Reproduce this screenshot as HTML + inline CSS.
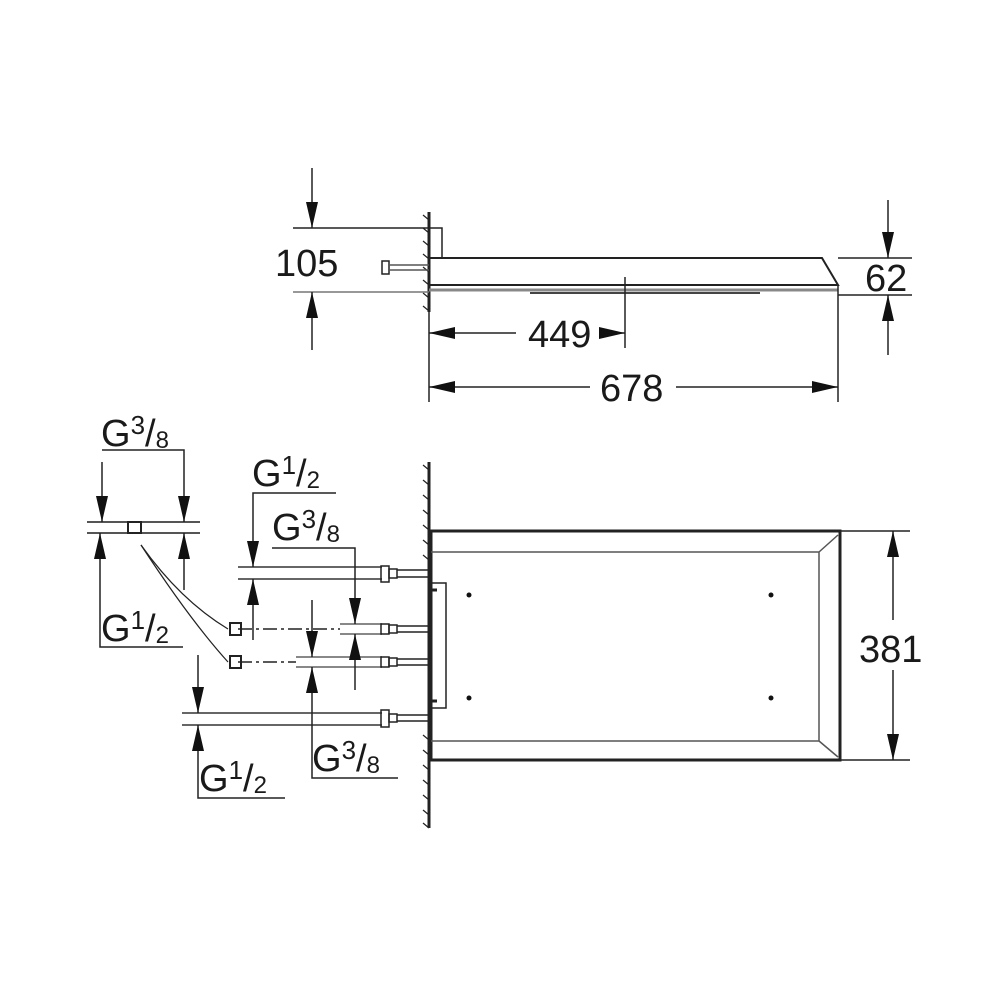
<!DOCTYPE html>
<html><head><meta charset="utf-8"><style>
html,body{margin:0;padding:0;background:#fff;}
svg{display:block}
text{font-family:"Liberation Sans",sans-serif;fill:#1a1a1a}
</style></head><body>
<svg width="1000" height="1000" viewBox="0 0 1000 1000" xmlns="http://www.w3.org/2000/svg">
<defs>
<marker id="b" viewBox="0 0 10 10" refX="10" refY="5" markerWidth="26" markerHeight="12" orient="auto-start-reverse" markerUnits="userSpaceOnUse" preserveAspectRatio="none">
<path d="M0,0 L10,5 L0,10 z" fill="#111"/></marker>
</defs>
<g stroke="#222" fill="none" stroke-width="1.5">
<!-- TOP VIEW -->
<line x1="429" y1="212" x2="429" y2="312" stroke-width="3"/>
<path d="M429,220 l-6,-5 M429,233 l-6,-5 M429,246 l-6,-5 M429,259 l-6,-5 M429,272 l-6,-5 M429,285 l-6,-5 M429,298 l-6,-5 M429,311 l-6,-5" stroke-width="1.2"/>
<path d="M429,228 H442 V258" />
<path d="M429,258 H822 L838,285 H429" stroke-width="2"/>
<line x1="429" y1="290" x2="838" y2="290" stroke="#888" stroke-width="3"/>
<line x1="530" y1="293" x2="760" y2="293" stroke="#444" stroke-width="2"/>
<rect x="382" y="261" width="7" height="13" stroke-width="1.5"/>
<line x1="389" y1="265" x2="429" y2="265" stroke="#555"/>
<line x1="389" y1="270" x2="429" y2="270" stroke="#555"/>
<!-- 105 -->
<line x1="293" y1="228" x2="429" y2="228"/>
<line x1="293" y1="292" x2="429" y2="292" stroke="#777"/>
<line x1="312" y1="168" x2="312" y2="228" marker-end="url(#b)"/>
<line x1="312" y1="350" x2="312" y2="292" marker-end="url(#b)"/>
<!-- 62 -->
<line x1="838" y1="258" x2="912" y2="258"/>
<line x1="838" y1="295" x2="912" y2="295"/>
<line x1="888" y1="200" x2="888" y2="258" marker-end="url(#b)"/>
<line x1="888" y1="355" x2="888" y2="295" marker-end="url(#b)"/>
<!-- 449 / 678 -->
<line x1="625" y1="277" x2="625" y2="348"/>
<line x1="838" y1="285" x2="838" y2="402"/>
<line x1="429" y1="312" x2="429" y2="402"/>
<line x1="429" y1="333" x2="516" y2="333" marker-start="url(#b)"/>
<line x1="606" y1="333" x2="625" y2="333" marker-end="url(#b)"/>
<line x1="429" y1="387" x2="590" y2="387" marker-start="url(#b)"/>
<line x1="676" y1="387" x2="838" y2="387" marker-end="url(#b)"/>

<!-- BOTTOM VIEW -->
<line x1="429" y1="462" x2="429" y2="828" stroke-width="3"/>
<path d="M429,470 l-6,-5 M429,485 l-6,-5 M429,500 l-6,-5 M429,515 l-6,-5 M429,530 l-6,-5 M429,545 l-6,-5 M429,560 l-6,-5 M429,740 l-6,-5 M429,755 l-6,-5 M429,770 l-6,-5 M429,785 l-6,-5 M429,800 l-6,-5 M429,815 l-6,-5 M429,828 l-6,-5" stroke-width="1.2"/>
<rect x="431" y="531" width="409" height="229" stroke-width="3"/>
<path d="M431,552 H819 V741 H431 M819,552 L838,535 M819,741 L838,757" stroke="#555"/>
<path d="M431,583 H446 V708 H431"/>
<line x1="431" y1="590" x2="437" y2="590" stroke-width="3"/>
<line x1="431" y1="701" x2="437" y2="701" stroke-width="3"/>
<!-- 381 -->
<line x1="840" y1="531" x2="910" y2="531"/>
<line x1="840" y1="760" x2="910" y2="760"/>
<line x1="893" y1="531" x2="893" y2="620" marker-start="url(#b)"/>
<line x1="893" y1="670" x2="893" y2="760" marker-end="url(#b)"/>

<!-- pipes -->
<line x1="238" y1="567" x2="382" y2="567" stroke="#666" stroke-width="2"/>
<line x1="238" y1="579" x2="382" y2="579" stroke="#666" stroke-width="2"/>
<rect x="381" y="566" width="8" height="16"/><rect x="389" y="569" width="8" height="9"/>
<line x1="397" y1="570" x2="429" y2="570"/><line x1="397" y1="577" x2="429" y2="577"/>

<line x1="182" y1="713" x2="382" y2="713" stroke="#666" stroke-width="2"/>
<line x1="182" y1="725" x2="382" y2="725" stroke="#666" stroke-width="2"/>
<rect x="381" y="710" width="8" height="17"/><rect x="389" y="714" width="8" height="8"/>
<line x1="397" y1="715" x2="429" y2="715"/><line x1="397" y1="721" x2="429" y2="721"/>

<line x1="340" y1="624" x2="382" y2="624" stroke="#888" stroke-width="2"/>
<line x1="340" y1="634" x2="382" y2="634" stroke="#888" stroke-width="2"/>
<rect x="381" y="624" width="8" height="10"/><rect x="389" y="625" width="8" height="8"/>
<line x1="397" y1="626" x2="429" y2="626"/><line x1="397" y1="632" x2="429" y2="632"/>
<line x1="296" y1="657" x2="382" y2="657" stroke="#888" stroke-width="2"/>
<line x1="296" y1="667" x2="382" y2="667" stroke="#888" stroke-width="2"/>
<rect x="381" y="657" width="8" height="10"/><rect x="389" y="658" width="8" height="8"/>
<line x1="397" y1="659" x2="429" y2="659"/><line x1="397" y1="665" x2="429" y2="665"/>

<line x1="238" y1="629" x2="340" y2="629" stroke-dasharray="14,4,3,4"/>
<line x1="238" y1="662" x2="296" y2="662" stroke-dasharray="14,4,3,4"/>
<rect x="230" y="623" width="11" height="12" stroke-width="2"/>
<rect x="230" y="656" width="11" height="12" stroke-width="2"/>

<!-- left G3/8 fitting -->
<line x1="87" y1="522" x2="200" y2="522" stroke="#555" stroke-width="2"/>
<line x1="87" y1="533" x2="200" y2="533" stroke="#555" stroke-width="2"/>
<rect x="128" y="522" width="13" height="11" stroke-width="2"/>
<path d="M141,545 Q180,600 228,629" stroke-width="1.2"/>
<path d="M141,545 Q190,620 228,662" stroke-width="1.2"/>

<!-- dims left -->
<path d="M102,450 H184 V522" marker-end="url(#b)"/>
<line x1="102" y1="462" x2="102" y2="522" marker-end="url(#b)"/>
<path d="M184,590 V533" marker-end="url(#b)"/>
<path d="M183,647 H100 V533" marker-end="url(#b)"/>

<path d="M336,493 H253 V567" marker-end="url(#b)"/>
<line x1="253" y1="640" x2="253" y2="579" marker-end="url(#b)"/>

<path d="M272,548 H355 V624" marker-end="url(#b)"/>
<line x1="355" y1="690" x2="355" y2="634" marker-end="url(#b)"/>

<line x1="312" y1="600" x2="312" y2="657" marker-end="url(#b)"/>
<path d="M398,778 H312 V667" marker-end="url(#b)"/>

<line x1="198" y1="655" x2="198" y2="713" marker-end="url(#b)"/>
<path d="M285,798 H198 V725" marker-end="url(#b)"/>
</g>
<g font-size="38">
<text x="275" y="276">105</text>
<text x="865" y="291">62</text>
<text x="528" y="347">449</text>
<text x="600" y="401">678</text>
<text x="859" y="662">381</text>
</g>
<g font-size="38">
<text x="101" y="446">G<tspan font-size="26" dy="-12">3</tspan><tspan dy="12">/</tspan><tspan font-size="24" dy="2">8</tspan></text>
<text x="101" y="641">G<tspan font-size="26" dy="-12">1</tspan><tspan dy="12">/</tspan><tspan font-size="24" dy="2">2</tspan></text>
<text x="252" y="486">G<tspan font-size="26" dy="-12">1</tspan><tspan dy="12">/</tspan><tspan font-size="24" dy="2">2</tspan></text>
<text x="272" y="540">G<tspan font-size="26" dy="-12">3</tspan><tspan dy="12">/</tspan><tspan font-size="24" dy="2">8</tspan></text>
<text x="312" y="771">G<tspan font-size="26" dy="-12">3</tspan><tspan dy="12">/</tspan><tspan font-size="24" dy="2">8</tspan></text>
<text x="199" y="791">G<tspan font-size="26" dy="-12">1</tspan><tspan dy="12">/</tspan><tspan font-size="24" dy="2">2</tspan></text>
</g>
<g fill="#111">
<circle cx="469" cy="595" r="2.5"/><circle cx="771" cy="595" r="2.5"/>
<circle cx="469" cy="698" r="2.5"/><circle cx="771" cy="698" r="2.5"/>
</g>
</svg>
</body></html>
